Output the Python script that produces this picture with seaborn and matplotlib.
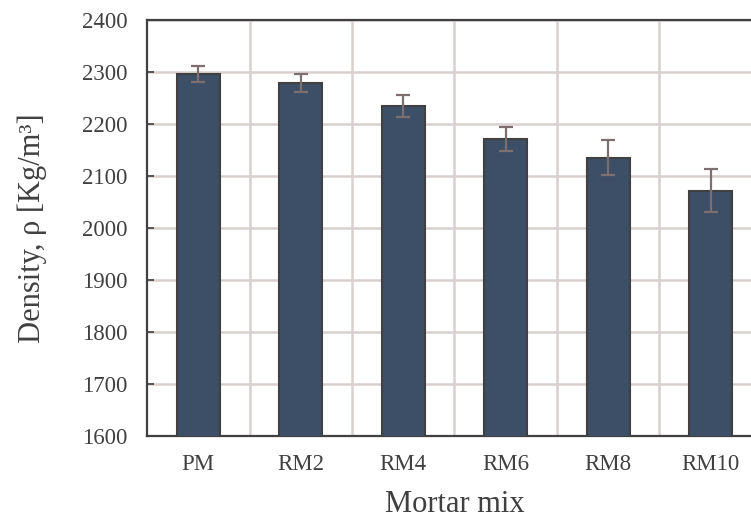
import matplotlib
matplotlib.use("Agg")
import matplotlib.pyplot as plt
import seaborn as sns
import pandas as pd
import numpy as np

# Mortar mix densities (mean and standard deviation)
mixes = ["PM", "RM2", "RM4", "RM6", "RM8", "RM10"]
density = [2296, 2279, 2234, 2171, 2135, 2072]
density_sd = [15, 18, 21, 23, 34, 41]
y_ticks = [1600, 1700, 1800, 1900, 2000, 2100, 2200, 2300, 2400]

df = pd.DataFrame({"mix": mixes, "density": density})

sns.set_theme(style="white")
plt.rcParams["font.family"] = ["Liberation Serif", "DejaVu Serif"]

fig = plt.figure(figsize=(7.51, 5.2), dpi=100)
ax = fig.add_axes([147 / 751, 1 - 436 / 520, (762 - 147) / 751, 416 / 520])

sns.barplot(data=df, x="mix", y="density", ax=ax, color="#3c4f66",
            saturation=1, width=0.42, edgecolor="#404040", linewidth=1.5,
            errorbar=None, zorder=3)

ax.errorbar(np.arange(len(mixes)), density, yerr=density_sd, fmt="none",
            ecolor="#7d6f6f", elinewidth=1.6, capsize=4.7, capthick=1.6,
            zorder=4)

ax.set_ylim(y_ticks[0], y_ticks[-1])
ax.set_yticks(y_ticks)
ax.set_xlim(-0.5, len(mixes) - 0.5)

# gridlines at category boundaries and at each y tick
ax.set_xticks(np.arange(len(mixes) - 1) + 0.5, minor=True)
ax.grid(True, which="minor", axis="x", color="#d8d0ce", linewidth=1.8, zorder=0)
ax.grid(True, which="major", axis="y", color="#d8d0ce", linewidth=1.8, zorder=0)
ax.set_axisbelow(True)

for side in ["left", "bottom", "top", "right"]:
    ax.spines[side].set_color("#404040")
    ax.spines[side].set_linewidth(1.6)
    ax.spines[side].set_visible(True)

ax.tick_params(axis="y", which="major", direction="in", length=5, width=1.2,
               color="#404040", left=True, pad=14, labelsize=16.5,
               labelcolor="#404040")
ax.tick_params(axis="x", which="both", length=0, pad=13, labelsize=16.5,
               labelcolor="#404040")

ax.set_xlabel("Mortar mix", fontsize=22, color="#404040", labelpad=11)
ax.set_ylabel("Density, ρ [Kg/m³]", fontsize=22, color="#404040",
              labelpad=25)

fig.savefig("out.png", dpi=100)
